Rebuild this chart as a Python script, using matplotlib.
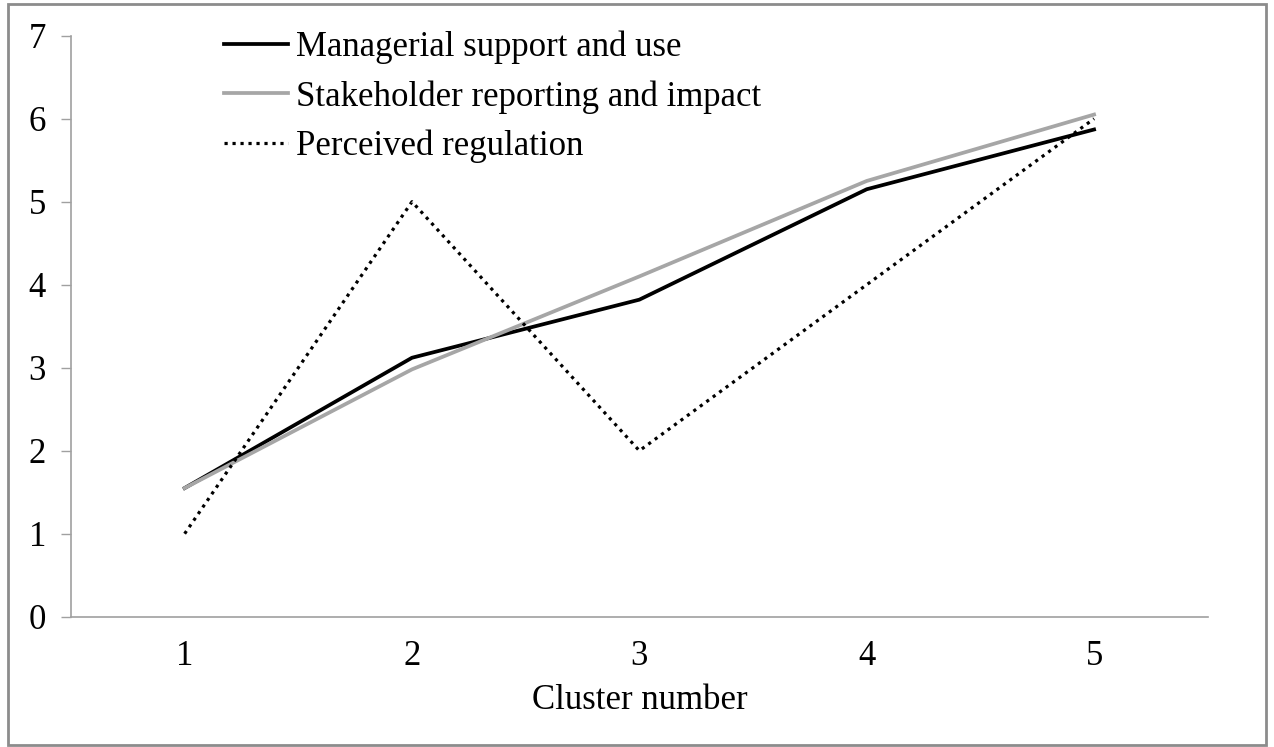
import matplotlib.pyplot as plt
from matplotlib.patches import Rectangle

# data
clusters = [1, 2, 3, 4, 5]
managerial = [1.55, 3.12, 3.82, 5.15, 5.87]
stakeholder = [1.55, 2.98, 4.10, 5.25, 6.05]
regulation = [1, 5, 2, 4, 6]

plt.rcParams['font.family'] = ['Liberation Serif', 'DejaVu Serif']
fs = 25

fig = plt.figure(figsize=(12.74, 7.47), dpi=100)
ax = fig.add_axes([0.0557, 0.1744, 0.8923, 0.7778])

ax.plot(clusters, managerial, color='black', lw=2.7, label='Managerial support and use')
ax.plot(clusters, stakeholder, color='#a6a6a6', lw=2.7, label='Stakeholder reporting and impact')
ax.plot(clusters, regulation, color='black', lw=2.3, linestyle=(0, (1, 1.5)),
        label='Perceived regulation')

ax.set_xlim(0.5, 5.5)
ax.set_ylim(0, 7)
ax.set_xticks(clusters)
ax.set_yticks(range(0, 8))
ax.tick_params(axis='x', length=0, pad=17, labelsize=fs)
ax.tick_params(axis='y', length=7, width=1, color='#a0a0a0', pad=11, labelsize=fs)
ax.set_xlabel('Cluster number', fontsize=fs, labelpad=8)

for s in ['top', 'right']:
    ax.spines[s].set_visible(False)
for s in ['left', 'bottom']:
    ax.spines[s].set_color('#a0a0a0')
    ax.spines[s].set_linewidth(1.2)

leg = ax.legend(loc='upper left', bbox_to_anchor=(224 / 1274, 1 - 31 / 747),
                bbox_transform=fig.transFigure, frameon=False,
                fontsize=fs, handlelength=1.84, handletextpad=0.23, labelspacing=0.45,
                borderaxespad=0, borderpad=0)

# grey frame around the whole chart
fig.patches.append(Rectangle((0.006, 0.003), 0.988, 0.991, transform=fig.transFigure,
                             fill=False, edgecolor='#8c8c8c', lw=2))

fig.savefig('out.png', dpi=100)
